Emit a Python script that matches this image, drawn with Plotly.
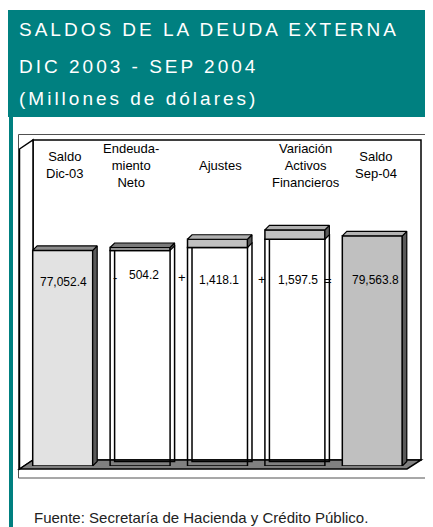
import plotly.graph_objects as go

# ---------------- data ----------------
categories = ["Saldo<br>Dic-03", "Endeuda-<br>miento<br>Neto", "Ajustes",
              "Variación<br>Activos<br>Financieros", "Saldo<br>Sep-04"]
values = [77052.4, 504.2, 1418.1, 1597.5, 79563.8]
value_labels = ["77,052.4", "504.2", "1,418.1", "1,597.5", "79,563.8"]
kinds = ["total", "relative", "relative", "relative", "total"]
operators = ["-", "+", "+", "="]
title_lines = ["SALDOS DE LA DEUDA EXTERNA", "DIC 2003 - SEP 2004", "(Millones de dólares)"]
source_text = "Fuente: Secretaría de Hacienda y Crédito Público."

# ---------------- styles / geometry ----------------
OFF = 8                      # default page margin of the html body
W, H = 433 - OFF, 527 - OFF  # figure size so that it fits the window
L, T = 24 - OFF, 146 - OFF
PW, PH = 387, 320
R = W - L - PW
B = H - T - PH
Y0, Y1 = 40000, 95000
X0, X1 = -0.5, 4.5
BW = 0.775
DX = 4.5 * (X1 - X0) / PW
DY = 4.5 * (Y1 - Y0) / PH
FONT = "Liberation Sans, Arial, sans-serif"
TEAL = "#008080"
front_colors = ["#E2E2E2", "#C0C0C0", "#C0C0C0", "#C0C0C0", "#C0C0C0"]
top_colors = ["#8C8C8C", "#7A7A7A", "#B0B0B0", "#B0B0B0", "#B4B4B4"]
side_color = "#5A5A5A"
cat_xshift = [2, -9, 3, 11, 4]
val_xshift = [1, 4, 1, 3, 3]
val_y = [282, 275, 280, 280, 280]
op_xshift = [14, 3, 6, -6]
op_y = [277, 277, 279, 280]


# helpers: window pixel -> paper fraction
def xp(px):
    return (px - OFF - L) / PW


def yp(py):
    return (H - B - (py - OFF)) / PH


# cumulative bases / tops
bases, tops = [], []
run = 0.0
for v, k in zip(values, kinds):
    if k == "total":
        b, t = Y0, v
        run = v
    else:
        b, t = run, run + v
        run = t
    bases.append(b)
    tops.append(t)

fig = go.Figure()
EDGE = dict(color="black", width=1.5)

for i, k in enumerate(kinds):
    if k == "total":
        fig.add_trace(go.Bar(x=[i], base=[Y0], y=[tops[i] - Y0], width=BW, offset=-BW / 2,
                             marker=dict(color=front_colors[i], line=EDGE), hoverinfo="skip"))
    else:
        # transparent base box (back face then front face)
        fig.add_trace(go.Bar(x=[i], base=[Y0 + DY], y=[bases[i] - Y0], width=BW, offset=-BW / 2 + DX,
                             marker=dict(color="rgba(255,255,255,0)", line=EDGE), hoverinfo="skip"))
        fig.add_trace(go.Bar(x=[i], base=[Y0], y=[bases[i] - Y0], width=BW, offset=-BW / 2,
                             marker=dict(color="rgba(255,255,255,0)", line=EDGE), hoverinfo="skip"))
        # visible increment slab
        fig.add_trace(go.Bar(x=[i], base=[bases[i]], y=[values[i]], width=BW, offset=-BW / 2,
                             marker=dict(color=front_colors[i], line=EDGE), hoverinfo="skip"))

# 3D side and top faces, derived from the same values
for i in range(len(values)):
    lft, rgt = i - BW / 2, i + BW / 2
    b, t = bases[i], tops[i]
    fig.add_trace(go.Scatter(x=[rgt, rgt + DX, rgt + DX, rgt, rgt],
                             y=[b, b + DY, t + DY, t, b],
                             mode="lines", fill="toself", fillcolor=side_color,
                             line=dict(color="black", width=1.2), hoverinfo="skip"))
    fig.add_trace(go.Scatter(x=[lft, lft + DX, rgt + DX, rgt, lft],
                             y=[t, t + DY, t + DY, t, t],
                             mode="lines", fill="toself", fillcolor=top_colors[i],
                             line=dict(color="black", width=1.2), hoverinfo="skip"))

shapes = [
    # teal header and left rule
    dict(type="rect", xref="paper", yref="paper", x0=xp(7), x1=xp(440), y0=yp(117), y1=yp(10),
         fillcolor=TEAL, line=dict(width=0), layer="below"),
    dict(type="rect", xref="paper", yref="paper", x0=xp(9), x1=xp(13), y0=yp(535), y1=yp(116),
         fillcolor=TEAL, line=dict(width=0), layer="below"),
    # chart frame
    dict(type="rect", xref="paper", yref="paper", x0=xp(18.5), x1=xp(431), y0=yp(478), y1=yp(134.5),
         fillcolor="white", line=dict(color="#505050", width=1), layer="below"),
    # back wall
    dict(type="rect", xref="paper", yref="paper", x0=xp(33), x1=xp(421), y0=yp(460), y1=yp(140),
         fillcolor="white", line=dict(color="black", width=1.5), layer="below"),
    # left wall
    dict(type="path", xref="paper", yref="paper",
         path=f"M {xp(19.5)} {yp(149)} L {xp(33)} {yp(140)} L {xp(33)} {yp(460)} L {xp(19.5)} {yp(469)} Z",
         fillcolor="white", line=dict(color="black", width=1.5), layer="below"),
    # floor
    dict(type="path", xref="paper", yref="paper",
         path=f"M {xp(19.5)} {yp(469)} L {xp(33)} {yp(460)} L {xp(421)} {yp(460)} L {xp(407)} {yp(469)} Z",
         fillcolor="#808080", line=dict(color="black", width=1.5), layer="below"),
]

annotations = []
title_y = [30, 66, 98]
for line, ty in zip(title_lines, title_y):
    annotations.append(dict(xref="paper", yref="paper", x=xp(17), y=yp(ty), xanchor="left", yanchor="middle",
                            text=f'<span style="letter-spacing:3px">{line}</span>', showarrow=False,
                            font=dict(family=FONT, size=19, color="white")))
for i, c in enumerate(categories):
    annotations.append(dict(xref="x", yref="paper", x=i, y=yp(165), xanchor="center", yanchor="middle",
                            xshift=cat_xshift[i], text=c, showarrow=False,
                            font=dict(family=FONT, size=13, color="black")))
for i, lab in enumerate(value_labels):
    annotations.append(dict(xref="x", yref="paper", x=i, y=yp(val_y[i]), xanchor="center", yanchor="middle",
                            xshift=val_xshift[i], text=lab, showarrow=False,
                            font=dict(family=FONT, size=12, color="black")))
for j, op in enumerate(operators):
    annotations.append(dict(xref="x", yref="paper", x=j + 0.5, y=yp(op_y[j]), xanchor="center", yanchor="middle",
                            xshift=op_xshift[j], text=op, showarrow=False,
                            font=dict(family=FONT, size=13, color="black")))
annotations.append(dict(xref="paper", yref="paper", x=xp(32), y=yp(517), xanchor="left", yanchor="middle",
                        text=source_text, showarrow=False,
                        font=dict(family=FONT, size=15, color="#222222")))

fig.update_layout(
    width=W, height=H,
    margin=dict(l=L, r=R, t=T, b=B, pad=0),
    paper_bgcolor="white", plot_bgcolor="rgba(0,0,0,0)",
    barmode="overlay", showlegend=False,
    xaxis=dict(range=[X0, X1], visible=False, fixedrange=True),
    yaxis=dict(range=[Y0, Y1], visible=False, fixedrange=True),
    shapes=shapes, annotations=annotations,
)

fig.write_html("out.html", config={"displayModeBar": False})
